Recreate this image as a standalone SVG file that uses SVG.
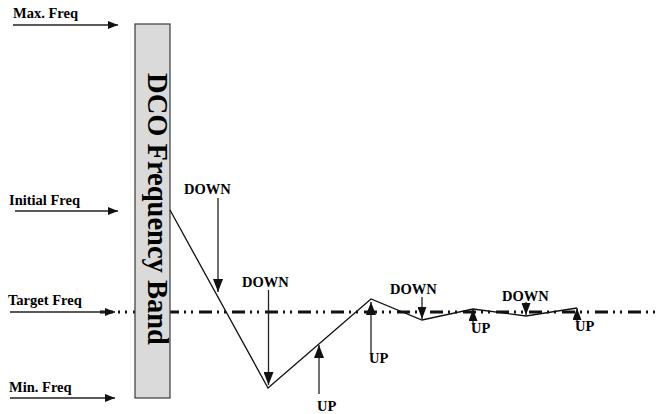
<svg xmlns="http://www.w3.org/2000/svg" width="660" height="414" viewBox="0 0 660 414">
  <style>
    .lbl { font-family: "Liberation Serif", "Times New Roman", serif; font-weight: bold; font-size: 14.5px; fill: #000; }
    .band-text { font-family: "Liberation Serif", "Times New Roman", serif; font-weight: bold; font-size: 28.5px; fill: #000; }
    .band { fill: #dadada; stroke: #3a3a3a; stroke-width: 1.2; }
    .arrow { stroke: #222; stroke-width: 1.3; fill: none; }
    .trace { stroke: #111; stroke-width: 1.3; fill: none; stroke-linejoin: miter; }
    .target { stroke: #111; stroke-width: 3; fill: none; stroke-dasharray: 13 5 2 5 2 6; }
  </style>
  <defs>
    <marker id="headH" markerUnits="userSpaceOnUse" markerWidth="10" markerHeight="8" refX="10" refY="4" orient="auto">
      <path d="M0,0 L10,4 L0,8 z" fill="#111"/>
    </marker>
    <marker id="headV" markerUnits="userSpaceOnUse" markerWidth="13" markerHeight="10" refX="13" refY="5" orient="auto">
      <path d="M0,0 L13,5 L0,10 z" fill="#111"/>
    </marker>
    <marker id="headS" markerUnits="userSpaceOnUse" markerWidth="12" markerHeight="9" refX="12" refY="4.5" orient="auto">
      <path d="M0,0 L12,4.5 L0,9 z" fill="#111"/>
    </marker>
  </defs>

  <!-- target frequency reference line (behind the band) -->
  <line id="target-line" class="target" x1="100" y1="312" x2="660" y2="312"/>

  <!-- frequency band bar -->
  <g id="band">
    <rect class="band" x="135" y="24" width="35" height="374"/>
    <text class="band-text" x="148" y="209" text-anchor="middle" transform="rotate(90 148 209)">DCO Frequency Band</text>
  </g>

  <!-- frequency level labels -->
  <g id="max-freq">
    <text class="lbl" x="13" y="18">Max. Freq</text>
  </g>
  <g id="initial-freq">
    <text class="lbl" x="9" y="205">Initial Freq</text>
  </g>
  <g id="target-freq">
    <text class="lbl" x="8" y="305">Target Freq</text>
  </g>
  <g id="min-freq">
    <text class="lbl" x="9" y="392">Min. Freq</text>
  </g>

  <!-- step labels -->
  <g id="down-1"><text class="lbl" x="184" y="194">DOWN</text></g>
  <g id="down-2"><text class="lbl" x="242" y="287">DOWN</text></g>
  <g id="up-1"><text class="lbl" x="317" y="411">UP</text></g>
  <g id="up-2"><text class="lbl" x="369" y="363">UP</text></g>
  <g id="down-3"><text class="lbl" x="390" y="294">DOWN</text></g>
  <g id="up-3"><text class="lbl" x="471" y="333">UP</text></g>
  <g id="down-4"><text class="lbl" x="502" y="301">DOWN</text></g>
  <g id="up-4"><text class="lbl" x="575" y="331">UP</text></g>

  <!-- connectors -->
  <g id="connectors">
    <line class="arrow" x1="13" y1="25" x2="118" y2="25" marker-end="url(#headH)"/>
    <line class="arrow" x1="15" y1="211" x2="118" y2="211" marker-end="url(#headH)"/>
    <line class="arrow" x1="10" y1="312" x2="115" y2="312" marker-end="url(#headH)"/>
    <line class="arrow" x1="10" y1="398" x2="115" y2="398" marker-end="url(#headH)"/>

    <!-- frequency trace converging on the target -->
    <polyline class="trace" points="170,210 268,388 371,299 422,320 473,309 526,316 577,308"/>

    <!-- step arrows -->
    <line class="arrow" x1="218" y1="198" x2="218" y2="292" marker-end="url(#headV)"/>
    <line class="arrow" x1="268.5" y1="290" x2="268.5" y2="385" marker-end="url(#headV)"/>
    <line class="arrow" x1="319" y1="394" x2="319" y2="345" marker-end="url(#headV)"/>
    <line class="arrow" x1="371" y1="353" x2="371" y2="302" marker-end="url(#headV)"/>
    <line class="arrow" x1="422" y1="297" x2="422" y2="319" marker-end="url(#headS)"/>
    <line class="arrow" x1="473" y1="325" x2="473" y2="309" marker-end="url(#headS)"/>
    <line class="arrow" x1="526" y1="302" x2="526" y2="315" marker-end="url(#headS)"/>
    <line class="arrow" x1="577" y1="321" x2="577" y2="308" marker-end="url(#headS)"/>
  </g>
</svg>
